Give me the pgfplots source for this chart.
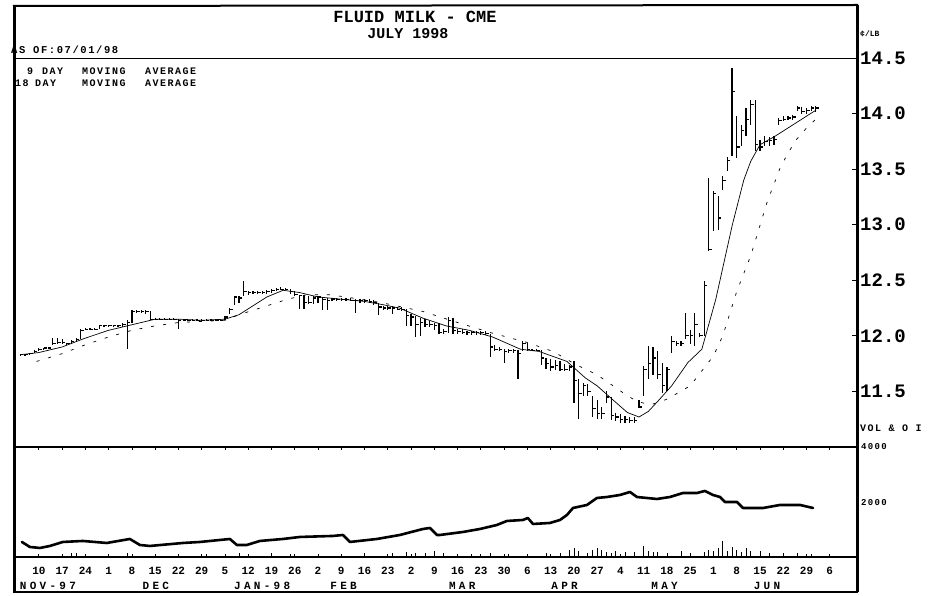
\documentclass[border=0pt]{standalone}
\usepackage{pgfplots}
\pgfplotsset{compat=1.18}
\usepackage{pgfplotstable}
\usepackage{fontspec}
\setmainfont{Liberation Mono}
\newfontfamily\wideB[LetterSpace=15]{Liberation Mono}
\newfontfamily\wideA[LetterSpace=30]{Liberation Mono}

\pgfdeclareplotmark{closetick}{\pgfpathmoveto{\pgfpointorigin}\pgfpathlineto{\pgfpoint{3pt}{0pt}}\pgfusepathqstroke}

\pgfplotstableread{
x h l c
-0.8 11.84 11.82 11.83
-0.6 11.84 11.82 11.83
-0.4 11.85 11.83 11.84
-0.2 11.87 11.85 11.86
0.0 11.89 11.86 11.88
0.2 11.89 11.87 11.89
0.4 11.90 11.88 11.89
0.6 11.98 11.92 11.93
0.8 11.98 11.93 11.94
1.0 11.97 11.93 11.94
1.2 11.94 11.92 11.93
1.4 11.96 11.93 11.95
1.6 11.98 11.95 11.97
1.8 12.06 11.97 12.05
2.0 12.07 12.05 12.06
2.2 12.07 12.05 12.06
2.4 12.07 12.05 12.06
2.6 12.09 12.06 12.09
2.8 12.10 12.08 12.09
3.0 12.10 12.08 12.09
3.2 12.10 12.08 12.09
3.4 12.10 12.08 12.09
3.6 12.12 12.08 12.10
3.8 12.14 11.88 12.12
4.0 12.23 12.12 12.22
4.2 12.23 12.21 12.22
4.4 12.23 12.21 12.22
4.6 12.23 12.20 12.22
4.8 12.22 12.14 12.15
5.0 12.16 12.14 12.15
5.2 12.16 12.14 12.15
5.4 12.16 12.14 12.15
5.6 12.16 12.14 12.15
5.8 12.16 12.14 12.15
6.0 12.15 12.06 12.14
6.2 12.15 12.13 12.14
6.4 12.15 12.13 12.14
6.6 12.15 12.13 12.14
6.8 12.15 12.13 12.14
7.0 12.15 12.13 12.14
7.2 12.15 12.13 12.14
7.4 12.15 12.13 12.14
7.6 12.15 12.13 12.14
7.8 12.15 12.13 12.14
8.0 12.18 12.14 12.17
8.2 12.25 12.20 12.24
8.4 12.36 12.28 12.35
8.6 12.36 12.30 12.34
8.8 12.49 12.36 12.40
9.0 12.40 12.37 12.39
9.2 12.40 12.38 12.39
9.4 12.40 12.38 12.39
9.6 12.40 12.38 12.39
9.8 12.41 12.38 12.40
10.0 12.42 12.39 12.41
10.2 12.43 12.40 12.42
10.4 12.44 12.41 12.42
10.6 12.43 12.41 12.42
10.8 12.42 12.38 12.40
11.0 12.40 12.36 12.37
11.2 12.37 12.24 12.36
11.4 12.37 12.24 12.30
11.6 12.36 12.29 12.30
11.8 12.36 12.29 12.34
12.0 12.36 12.30 12.35
12.2 12.35 12.23 12.33
12.4 12.34 12.23 12.32
12.6 12.34 12.31 12.33
12.8 12.34 12.31 12.33
13.0 12.34 12.31 12.33
13.2 12.34 12.31 12.33
13.4 12.34 12.31 12.32
13.6 12.33 12.21 12.32
13.8 12.33 12.30 12.32
14.0 12.33 12.30 12.32
14.2 12.33 12.30 12.31
14.4 12.32 12.28 12.30
14.6 12.30 12.19 12.26
14.8 12.27 12.23 12.25
15.0 12.27 12.23 12.25
15.2 12.27 12.20 12.25
15.4 12.26 12.23 12.24
15.6 12.26 12.22 12.24
15.8 12.24 12.09 12.18
16.0 12.20 12.09 12.17
16.2 12.18 11.99 12.10
16.4 12.16 12.00 12.12
16.6 12.15 12.08 12.10
16.8 12.13 12.08 12.10
17.0 12.12 12.05 12.09
17.2 12.12 12.02 12.03
17.4 12.06 12.02 12.04
17.6 12.17 12.03 12.14
17.8 12.16 12.02 12.05
18.0 12.06 12.02 12.04
18.2 12.06 12.02 12.03
18.4 12.04 12.01 12.03
18.6 12.04 12.01 12.03
18.8 12.04 12.01 12.03
19.0 12.04 12.01 12.03
19.2 12.04 12.01 12.02
19.4 12.02 11.81 11.90
19.6 11.92 11.86 11.88
19.8 11.90 11.86 11.88
20.0 11.88 11.76 11.86
20.2 11.88 11.85 11.87
20.4 11.88 11.85 11.87
20.6 11.87 11.61 11.84
20.8 11.95 11.86 11.93
21.0 11.94 11.86 11.88
21.2 11.88 11.86 11.87
21.4 11.88 11.86 11.87
21.6 11.87 11.74 11.80
21.8 11.80 11.70 11.75
22.0 11.79 11.68 11.72
22.2 11.78 11.69 11.73
22.4 11.77 11.68 11.70
22.6 11.75 11.68 11.70
22.8 11.74 11.68 11.72
23.0 11.77 11.40 11.60
23.2 11.61 11.25 11.48
23.4 11.58 11.46 11.55
23.6 11.57 11.46 11.50
23.8 11.46 11.27 11.35
24.0 11.42 11.25 11.30
24.2 11.36 11.25 11.30
24.4 11.50 11.40 11.45
24.6 11.45 11.24 11.28
24.8 11.31 11.23 11.27
25.0 11.30 11.22 11.25
25.2 11.28 11.22 11.25
25.4 11.27 11.22 11.24
25.6 11.27 11.22 11.24
25.8 11.42 11.35 11.36
26.0 11.73 11.46 11.70
26.2 11.91 11.61 11.75
26.4 11.90 11.65 11.80
26.6 11.86 11.61 11.65
26.8 11.76 11.49 11.55
27.0 11.72 11.50 11.70
27.2 12.00 11.85 11.95
27.4 11.95 11.91 11.93
27.6 11.95 11.91 11.93
27.8 12.21 11.97 12.00
28.0 12.05 11.93 12.00
28.2 12.21 11.91 12.10
28.4 12.03 11.99 12.00
28.6 12.49 12.00 12.45
28.8 13.42 12.76 12.78
29.0 13.30 12.94 13.28
29.2 13.26 12.95 13.06
29.4 13.44 13.31 13.40
29.6 13.61 13.48 13.58
29.8 14.41 13.62 14.20
30.0 13.98 13.60 13.70
30.2 13.90 13.71 13.85
30.4 14.05 13.80 13.95
30.6 14.12 13.90 14.08
30.8 14.12 13.66 13.72
31.0 13.76 13.66 13.70
31.2 13.80 13.71 13.75
31.4 13.79 13.71 13.76
31.6 13.80 13.72 13.77
31.8 13.96 13.90 13.94
32.0 13.98 13.93 13.95
32.2 13.98 13.94 13.96
32.4 13.99 13.94 13.97
32.6 14.07 14.02 14.05
32.8 14.06 14.00 14.02
33.0 14.05 14.00 14.03
33.2 14.07 14.02 14.05
33.4 14.07 14.01 14.05
}\pricedata

\pgfplotstableread{
x ma
-0.8 11.83
0.0 11.85
1.0 11.90
2.0 11.98
3.0 12.05
4.0 12.10
5.0 12.15
6.0 12.15
7.0 12.14
8.0 12.15
8.6 12.19
9.2 12.27
9.8 12.35
10.5 12.41
11.2 12.39
12.0 12.35
13.0 12.33
14.0 12.31
14.8 12.28
15.5 12.25
16.5 12.16
17.5 12.09
18.5 12.05
19.5 11.99
20.7 11.88
21.5 11.86
22.7 11.77
23.5 11.62
24.0 11.55
24.7 11.42
25.3 11.31
25.8 11.27
26.2 11.32
26.6 11.41
27.2 11.55
27.9 11.76
28.5 11.88
29.1 12.33
29.8 12.99
30.3 13.40
30.6 13.57
31.0 13.72
31.6 13.79
32.2 13.87
32.8 13.95
33.4 14.03
}\manine

\pgfplotstableread{
x ma
-0.1 11.77
1.0 11.84
2.0 11.92
3.0 11.99
4.0 12.05
5.0 12.09
6.0 12.12
7.0 12.13
8.0 12.14
8.6 12.19
9.8 12.27
10.7 12.33
11.5 12.37
12.5 12.37
13.5 12.34
14.7 12.30
16.5 12.22
18.0 12.12
19.4 12.03
21.0 11.94
22.1 11.86
23.1 11.74
24.0 11.65
25.1 11.49
25.7 11.41
26.3 11.38
27.0 11.43
28.0 11.55
29.0 11.82
29.4 12.00
30.0 12.40
30.6 12.72
31.3 13.20
31.9 13.53
32.5 13.75
33.0 13.87
33.4 13.95
}\maeighteen

\pgfplotstableread{
x oi
-0.73 607
-0.39 429
0.04 393
0.47 464
1.03 607
1.89 643
2.92 571
3.91 714
4.34 500
4.77 464
6.19 571
6.92 607
8.21 714
8.51 500
8.94 500
9.50 643
10.49 714
11.22 786
12.64 822
13.07 857
13.37 607
14.53 714
15.52 857
16.51 1071
16.81 1107
17.11 857
17.24 857
18.23 964
18.96 1071
19.69 1214
20.12 1357
20.81 1393
21.02 1464
21.24 1250
21.97 1286
22.40 1393
22.70 1571
22.96 1821
23.56 1929
23.99 2179
24.42 2214
24.98 2286
25.41 2393
25.71 2214
26.57 2143
27.13 2214
27.69 2357
28.29 2357
28.63 2429
28.98 2286
29.28 2214
29.49 2036
30.01 2036
30.27 1821
31.13 1821
31.86 1929
32.72 1929
33.28 1821
}\oidata

\pgfplotstableread{
x v
1.4 230
1.6 200
3.0 180
3.8 200
7.2 160
8.6 230
10.0 200
10.8 180
12.0 150
14.0 200
15.2 220
15.8 250
16.2 220
16.6 230
17.0 270
17.4 200
18.6 160
19.4 200
20.2 180
21.8 230
22.4 220
22.8 330
23.0 380
23.2 300
23.6 200
23.8 330
24.0 380
24.2 330
24.4 250
24.6 220
24.8 300
25.2 250
25.6 250
26.0 460
26.2 300
26.4 260
26.6 250
27.0 230
27.6 280
28.0 200
28.6 250
28.8 330
29.0 300
29.2 380
29.4 640
29.6 300
29.8 420
30.0 330
30.2 250
30.4 390
30.6 300
31.0 280
31.4 220
32.0 200
32.6 200
33.2 180
}\voldata

\begin{document}
\begin{tikzpicture}[x=1pt,y=1pt]
\useasboundingbox (0,0) rectangle (948,595);

% price panel
\begin{axis}[
  at={(14pt,148pt)}, anchor=south west, scale only axis,
  width=843pt, height=389pt,
  xmin=-1.07, xmax=35.17, ymin=11.0, ymax=14.5,
  axis line style={draw=none},
  xtick=\empty,
  ytick={11.5,12,12.5,13,13.5,14,14.5},
  ytick pos=right, yticklabel pos=right,
  tick align=inside, major tick length=5pt,
  tick style={black, line width=0.8pt},
  yticklabel style={anchor=west, inner sep=0pt, xshift=3pt,
    font=\bfseries\fontsize{19}{19}\selectfont},
  /pgf/number format/.cd, fixed, fixed zerofill, precision=1, assume math mode=true,
]
\addplot[black, line width=0.7pt] table[x=x,y=ma] {\manine};
\addplot[black, line width=0.7pt, dash pattern=on 3pt off 9pt] table[x=x,y=ma] {\maeighteen};
\addplot[black, line width=1.2pt, only marks, mark=closetick,
  mark options={line width=1.2pt},
  error bars/.cd, y dir=both, y explicit, error mark=none,
  error bar style={line width=1.2pt}]
  table[x=x, y=c, y error plus expr=\thisrow{h}-\thisrow{c}, y error minus expr=\thisrow{c}-\thisrow{l}] {\pricedata};
\end{axis}

% volume / open interest panel
\begin{axis}[
  at={(14pt,38pt)}, anchor=south west, scale only axis,
  width=843pt, height=110pt,
  xmin=-1.07, xmax=35.17, ymin=70, ymax=4000,
  axis line style={draw=none},
  xtick={0,...,34},
  xticklabels={10,17,24,1,8,15,22,29,5,12,19,26,2,9,16,23,2,9,16,23,30,6,13,20,27,4,11,18,25,1,8,15,22,29,6},
  xtick pos=both,
  tick align=inside, major tick length=3pt,
  tick style={black, line width=0.8pt},
  xticklabel style={anchor=base, inner sep=0pt, yshift=-17pt,
    font=\bfseries\fontsize{11}{11}\selectfont},
  extra x ticks={0.39,5.03,9.6,13.1,18.2,22.6,26.9,31.3},
  extra x tick labels={NOV-97,DEC,JAN-98,FEB,MAR,APR,MAY,JUN},
  extra x tick style={major tick length=0pt,
    xticklabel style={yshift=-15pt, font=\wideA\bfseries\fontsize{11}{11}\selectfont}},
  ytick=\empty,
  extra y ticks={2000,4000},
  extra y tick labels={2000,4000},
  extra y tick style={major tick length=0pt},
  ytick pos=right, yticklabel pos=right,
  yticklabel style={anchor=west, inner sep=0pt, xshift=4pt,
    font=\wideB\bfseries\fontsize{9}{9}\selectfont},
]
\addplot[ycomb, black, line width=0.8pt] table[x=x,y=v] {\voldata};
\addplot[black, line width=2.6pt, line join=round, line cap=round] table[x=x,y=oi] {\oidata};
\end{axis}

% frame and panel rules
\draw[line width=3pt] (14,3) -- (14,589);
\draw[line width=3pt] (857,3) -- (857,590);
\draw[line width=2pt] (13,589) -- (858,590);
\draw[line width=2.5pt] (13,3) -- (858,3);
\draw[line width=0.8pt] (14,537) -- (857,537);
\draw[line width=1.4pt] (14,148) -- (857,148);
\draw[line width=1.3pt] (14,38) -- (857,38);

% texts
\node[font=\bfseries\fontsize{17}{17}\selectfont] at (415,578) {FLUID MILK - CME};
\node[font=\bfseries\fontsize{15}{15}\selectfont] at (408,561) {JULY 1998};
\node[anchor=west, inner sep=0pt, font=\wideB\bfseries\fontsize{10.5}{10.5}\selectfont] at (11,545) {AS OF:07/01/98};
\begin{scope}[every node/.style={anchor=west, inner sep=0pt, font=\wideB\bfseries\fontsize{10}{10}\selectfont}]
\node at (27,524) {9};
\node at (42,524) {DAY};
\node at (82,524) {MOVING};
\node at (145,524) {AVERAGE};
\node at (15,512) {18};
\node at (35,512) {DAY};
\node at (82,512) {MOVING};
\node at (145,512) {AVERAGE};
\end{scope}
\node[anchor=west, inner sep=0pt, font=\bfseries\fontsize{8}{8}\selectfont] at (860,561) {¢/LB};
\node[anchor=west, inner sep=0pt, font=\wideB\bfseries\fontsize{10}{10}\selectfont] at (860,167) {VOL \& O I};
\end{tikzpicture}
\end{document}
